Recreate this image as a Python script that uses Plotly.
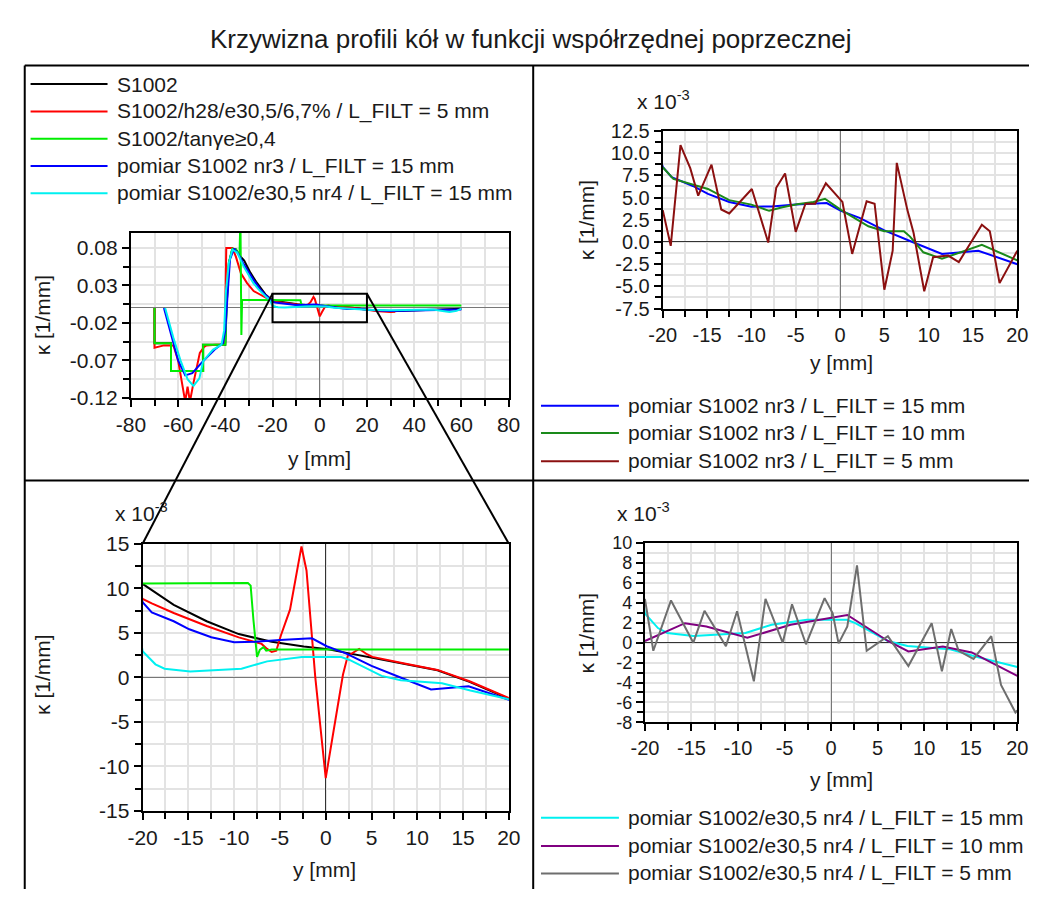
import numpy as np
import plotly.graph_objects as go

W, H = 1041, 900

# ---------------------------------------------------------------------------
# Curvature of wheel profiles, kappa [1/mm], versus lateral coordinate y [mm]
# ---------------------------------------------------------------------------

# S1002 nominal profile
y_s1002 = [-70, -70, -63, -63, -49.4, -49.4, -40, -39.5, -38.5, -37, -35.5, -34,
           -32, -29.4, -27, -25, -23, -21, -20, -16.6, -13, -9.5, -5.9, -2.4, 0,
           5, 8.6, 12.2, 15.7, 20, 30, 40, 50, 60]
k_s1002 = [0, -0.047, -0.047, -0.084, -0.084, -0.049, -0.049, 0.0, 0.06, 0.079,
           0.078, 0.07, 0.063, 0.047, 0.035, 0.026, 0.018, 0.0125, 0.0105,
           0.00815, 0.0063, 0.00486, 0.0040, 0.00347, 0.0032, 0.0022, 0.0015,
           0.0008, -0.0005, -0.0024, -0.0045, -0.003, -0.002, -0.001]

# S1002/h28/e30,5/6,7% filtered with L_FILT = 5 mm
y_h28 = [-70, -70, -66, -62, -60, -58, -57, -56, -55, -53.5, -52, -50.8, -49,
         -48, -44, -41, -40.2, -39.6, -37, -35.5, -33.4, -30.8, -28, -26, -24,
         -22, -20, -19, -16.6, -13, -9.5, -7, -6.4, -5.9, -5.4, -4.9, -3.9,
         -3.2, -2.65, -2.1, -1.5, -1.14, 0, 0.9, 1.88, 2.4, 3.65, 4.5, 5.1, 8.6,
         12.2, 15.7, 20, 25, 30, 32]
k_h28 = [0, -0.053, -0.05, -0.05, -0.07, -0.11, -0.125, -0.105, -0.125, -0.10,
         -0.075, -0.06, -0.052, -0.05, -0.049, -0.049, -0.04, 0.08, 0.08, 0.068,
         0.046, 0.033, 0.0225, 0.019, 0.016, 0.013, 0.0088, 0.0083, 0.00723,
         0.00577, 0.00449, 0.00376, 0.0032, 0.00285, 0.0030, 0.0047, 0.0076,
         0.0116, 0.0147, 0.0120, 0.0047, 0.0, -0.0113, -0.0058, 0.0003, 0.0024,
         0.0032, 0.0026, 0.0023, 0.00157, 0.00084, -0.00043, -0.00233, -0.0045,
         -0.0055, -0.005]

# S1002 with tan(gamma_e) >= 0.4
y_tan = [-70, -70, -63, -63, -49.4, -49.4, -40, -39.5, -38.5, -37, -35.5, -34,
         -33.6, -33.2, -32.9, -8.5, -8.2, -7.9, -7.5, -7.2, -6.8, -6.5, -5.9, 60]
k_tan = [0, -0.047, -0.047, -0.084, -0.084, -0.049, -0.049, 0.0, 0.06, 0.079,
         0.078, 0.07, 0.12, -0.036, 0.0105, 0.0106, 0.0103, 0.0065, 0.0023,
         0.0031, 0.0034, 0.0030, 0.00314, 0.00314]

# measured S1002 nr3, L_FILT = 15 mm
y_nr3_f15 = [-66, -63, -60, -57, -54, -50, -47, -44.5, -41, -40, -39, -38, -36.3,
             -34.5, -32.5, -30.8, -28, -25.3, -23, -21.2, -20, -19, -16.6, -14.9,
             -12.5, -10, -7.7, -5, -2.4, -1.5, 0.1, 2.2, 5, 7.55, 8.3, 11.5,
             15.6, 20, 25, 30, 40, 50, 60]
k_nr3_f15 = [0.0, -0.035, -0.07, -0.09, -0.087, -0.073, -0.063, -0.0555, -0.047,
             -0.03, 0.02, 0.065, 0.079, 0.072, 0.06, 0.051, 0.037, 0.025, 0.017,
             0.0125, 0.00845, 0.0073, 0.0063, 0.0054, 0.0045, 0.00395, 0.0040,
             0.0042, 0.0043, 0.00438, 0.0035, 0.0027, 0.0013, 0.0003, -0.00007,
             -0.00135, -0.00099, -0.00252, -0.0035, -0.004, -0.003, -0.0025,
             -0.002]

# measured S1002/e30,5 nr4, L_FILT = 15 mm
y_nr4_f15 = [-65.5, -62, -59, -56, -53.5, -51, -49.4, -47, -45.3, -41.6, -40.5,
             -39.8, -38.5, -37, -35, -32.2, -30, -28.1, -26, -24, -22.5, -21.2,
             -20, -18.6, -17.6, -14.8, -11.3, -9.2, -6.4, -2.6, 1.7, 2.6, 6.1,
             8.2, 12.7, 15.8, 20, 30, 40, 48, 52, 55, 58, 60]
k_nr4_f15 = [0.0, -0.04, -0.07, -0.095, -0.104, -0.094, -0.071, -0.062, -0.056,
             -0.049, -0.03, 0.02, 0.06, 0.0776, 0.074, 0.055, 0.043, 0.033,
             0.025, 0.0182, 0.014, 0.011, 0.00293, 0.00147, 0.00098, 0.00066,
             0.00082, 0.00098, 0.0018, 0.00229, 0.00229, 0.00196, 0.00017,
             -0.00033, -0.00065, -0.00147, -0.00245, -0.003, -0.003, -0.002,
             -0.004, -0.0055, -0.004, -0.001]

# measured S1002 nr3, L_FILT = 10 mm and 5 mm (values in 10^-3 1/mm)
y_nr3_f10 = [-20, -18.8, -14.9, -12.5, -10, -8, -6.5, -4.85, -3, -1.7, 0.1, 3.2,
             5, 7.2, 7.9, 9.4, 11.5, 13.1, 16, 20]
k_nr3_f10 = np.array([8.4, 7.1, 5.96, 4.7, 4.2, 3.5, 3.9, 4.25, 4.5, 4.86, 3.6,
                      1.76, 1.2, 1.2, 0.6, -1.17, -1.9, -1.35, -0.33, -2.08]) * 1e-3
y_nr3_f5 = [-20, -19.1, -18, -16.9, -16, -14.5, -13.4, -12.5, -9.95, -8.1, -7.2,
            -6.2, -5.0, -3.9, -2.8, -1.6, 0.27, 1.37, 3.0, 3.9, 5.0, 5.94, 6.4,
            7.6, 8.3, 9.5, 10.5, 12.2, 13.4, 16.0, 16.9, 18.0, 20]
k_nr3_f5 = np.array([3.58, -0.44, 10.9, 8.3, 5.2, 8.7, 3.65, 3.2, 5.96, -0.07,
                     6.1, 7.7, 1.13, 4.3, 4.3, 6.6, 4.5, -1.35, 4.57, 4.3, -5.38,
                     -0.99, 8.9, 3.58, 1.0, -5.56, -1.72, -1.54, -2.27, 1.94, 1.2,
                     -4.64, -0.99]) * 1e-3

# measured S1002/e30,5 nr4, L_FILT = 10 mm and 5 mm (values in 10^-3 1/mm)
y_nr4_f10 = [-20, -15.7, -13.4, -9.0, -4.35, -0.17, 1.74, 6.1, 8.3, 12.0, 15.1, 20]
k_nr4_f10 = np.array([0.17, 1.96, 1.63, 0.49, 1.8, 2.51, 2.78, 0.17, -0.88,
                      -0.39, -0.98, -3.33]) * 1e-3
y_nr4_f5 = [-20, -19.1, -17.2, -14.8, -13.6, -11.3, -10.1, -8.3, -7.05, -5.2,
            -4.2, -2.7, -0.7, 0.17, 0.8, 1.74, 2.78, 3.82, 6.1, 8.3, 10.8, 11.9,
            12.9, 13.7, 15.3, 17.2, 18.25, 19.8, 20]
k_nr4_f5 = np.array([4.4, -0.81, 4.24, 0.0, 3.2, -0.35, 3.15, -3.88, 4.4, 0.0,
                     3.85, -0.16, 4.47, 2.94, -0.07, 1.63, 7.77, -0.81, 0.66,
                     -2.35, 1.96, -2.87, 1.37, -0.81, -1.63, 0.66, -4.24, -7.0,
                     -6.8]) * 1e-3

# tick positions and labels
tl_xticks = [-80, -60, -40, -20, 0, 20, 40, 60, 80]
tl_yticks = [-0.12, -0.07, -0.02, 0.03, 0.08]
zoom_xticks = [-20, -15, -10, -5, 0, 5, 10, 15, 20]
tr_yticks = [-7.5, -5.0, -2.5, 0.0, 2.5, 5.0, 7.5, 10.0, 12.5]
bl_yticks = [-15, -10, -5, 0, 5, 10, 15]
br_yticks = [-8, -6, -4, -2, 0, 2, 4, 6, 8, 10]

# ---------------------------------------------------------------------------
FONT = "Liberation Sans, Arial, sans-serif"
FS = 21
TXT = "#1a1a1a"
GRID = "#e3e3e3"
MILLI = 1e3  # axes of the detail plots are scaled by 10^-3

C_BLACK, C_RED, C_LIME, C_BLUE, C_CYAN = "#000000", "#ff0000", "#00ee00", "#0000ff", "#00f0f0"
C_GREEN, C_DRED, C_PURPLE, C_GRAY = "#1a8a1a", "#8b1010", "#800080", "#6e6e6e"


def px(x):
    return x / W


def py(y):
    return 1 - y / H


def axis(domain, rng, tickvals, ticktext, minor_tick0, minor_dtick, anchor, fs=FS,
         zcolor="#777777"):
    return dict(
        domain=domain, range=rng, anchor=anchor,
        tickmode="array", tickvals=tickvals, ticktext=ticktext,
        ticks="outside", ticklen=7, tickwidth=2, tickcolor="black",
        showline=True, linecolor="black", linewidth=2, mirror=True,
        showgrid=True, gridcolor=GRID, gridwidth=1.5,
        zeroline=True, zerolinecolor=zcolor, zerolinewidth=1,
        tickfont=dict(family=FONT, size=fs, color=TXT),
        minor=dict(tickmode="linear", tick0=minor_tick0, dtick=minor_dtick,
                   ticks="outside", ticklen=6, tickwidth=2, tickcolor="black",
                   showgrid=True, gridcolor=GRID, gridwidth=1.5),
        fixedrange=True,
    )


# plot area positions (pixels)
TL = dict(x=(119, 506.7), y=(226.7, 396))
TR = dict(x=(665, 1029), y=(122, 304.3))
BL = dict(x=(131, 507), y=(545.7, 820))
BR = dict(x=(646.7, 1029), y=(545, 729))


def dom_x(a):
    return [px(a["x"][0]), px(a["x"][1])]


def dom_y(a):
    return [py(a["y"][1]), py(a["y"][0])]


fig = go.Figure()


def line(x, y, color, xa, ya, scale=1.0):
    fig.add_trace(go.Scatter(x=x, y=np.asarray(y, dtype=float) * scale, mode="lines",
                             line=dict(color=color, width=2), xaxis=xa, yaxis=ya,
                             showlegend=False, hoverinfo="skip"))


overview = [
    (y_s1002, k_s1002, C_BLACK, "S1002"),
    (y_h28, k_h28, C_RED, "S1002/h28/e30,5/6,7% / L_FILT = 5 mm"),
    (y_tan, k_tan, C_LIME, "S1002/tanγe≥0,4"),
    (y_nr3_f15, k_nr3_f15, C_BLUE, "pomiar S1002 nr3 / L_FILT = 15 mm"),
    (y_nr4_f15, k_nr4_f15, C_CYAN, "pomiar S1002/e30,5 nr4 / L_FILT = 15 mm"),
]
nr3 = [
    (y_nr3_f15, k_nr3_f15, C_BLUE, "pomiar S1002 nr3 / L_FILT = 15 mm"),
    (y_nr3_f10, k_nr3_f10, C_GREEN, "pomiar S1002 nr3 / L_FILT = 10 mm"),
    (y_nr3_f5, k_nr3_f5, C_DRED, "pomiar S1002 nr3 / L_FILT = 5 mm"),
]
nr4 = [
    (y_nr4_f15, k_nr4_f15, C_CYAN, "pomiar S1002/e30,5 nr4 / L_FILT = 15 mm"),
    (y_nr4_f10, k_nr4_f10, C_PURPLE, "pomiar S1002/e30,5 nr4 / L_FILT = 10 mm"),
    (y_nr4_f5, k_nr4_f5, C_GRAY, "pomiar S1002/e30,5 nr4 / L_FILT = 5 mm"),
]

for x, k, c, _ in overview:
    line(x, k, c, "x", "y")
for x, k, c, _ in nr3:
    line(x, k, c, "x2", "y2", MILLI)
for x, k, c, _ in overview:
    line(x, k, c, "x3", "y3", MILLI)
for x, k, c, _ in nr4:
    line(x, k, c, "x4", "y4", MILLI)

TL_XR, TL_YR = [-80, 80], [-0.12, 0.1]
ZOOM_XR = [-20, 20]
DARK0 = "#333333"

fig.update_layout(
    width=W, height=H, autosize=False,
    margin=dict(l=0, r=0, t=0, b=0),
    paper_bgcolor="white", plot_bgcolor="white",
    font=dict(family=FONT, size=FS, color=TXT),
    xaxis=axis(dom_x(TL), TL_XR, tl_xticks, [f"{v:g}" for v in tl_xticks], -80, 10, "y"),
    yaxis=axis(dom_y(TL), TL_YR, tl_yticks, [f"{v:.2f}" for v in tl_yticks], -0.12, 0.025, "x"),
    xaxis2=axis(dom_x(TR), ZOOM_XR, zoom_xticks, [f"{v:g}" for v in zoom_xticks], -20, 2.5, "y2", 20),
    yaxis2=axis(dom_y(TR), [-7.5, 12.5], tr_yticks, [f"{v:.1f}" for v in tr_yticks], -7.5, 1.25, "x2", 20,
                zcolor=DARK0),
    xaxis3=axis(dom_x(BL), ZOOM_XR, zoom_xticks, [f"{v:g}" for v in zoom_xticks], -20, 2.5, "y3",
                zcolor=DARK0),
    yaxis3=axis(dom_y(BL), [-15, 15], bl_yticks, [f"{v:g}" for v in bl_yticks], -15, 2.5, "x3"),
    xaxis4=axis(dom_x(BR), ZOOM_XR, zoom_xticks, [f"{v:g}" for v in zoom_xticks], -20, 2.5, "y4", 20),
    yaxis4=axis(dom_y(BR), [-8, 10], br_yticks, [f"{v:g}" for v in br_yticks], -8, 1, "x4", 18,
                zcolor=DARK0),
    showlegend=False,
)

shapes = []
ann = []

# panel frame (kept inside the paper)
FR = dict(color="black", width=2)
shapes += [
    dict(type="line", xref="paper", yref="paper", x0=px(10), x1=1, y0=py(55), y1=py(55), line=FR),
    dict(type="line", xref="paper", yref="paper", x0=px(10), x1=px(10), y0=py(55), y1=0, line=FR),
    dict(type="line", xref="paper", yref="paper", x0=px(10), x1=1, y0=py(480.7), y1=py(480.7), line=FR),
    dict(type="line", xref="paper", yref="paper", x0=px(532), x1=px(532), y0=py(55), y1=0, line=FR),
]

# zoom window on the overview and its connectors to the detail plot
ZOOM_YR = [-0.019, 0.019]
shapes.append(dict(type="rect", xref="x", yref="y", x0=ZOOM_XR[0], x1=ZOOM_XR[1],
                   y0=ZOOM_YR[0], y1=ZOOM_YR[1], line=FR, layer="above"))


def tl_paper(xv, yv):
    dx, dy = dom_x(TL), dom_y(TL)
    return (dx[0] + (xv - TL_XR[0]) / (TL_XR[1] - TL_XR[0]) * (dx[1] - dx[0]),
            dy[0] + (yv - TL_YR[0]) / (TL_YR[1] - TL_YR[0]) * (dy[1] - dy[0]))


for corner, target in ((ZOOM_XR[0], dom_x(BL)[0]), (ZOOM_XR[1], dom_x(BL)[1])):
    sx, sy = tl_paper(corner, ZOOM_YR[1])
    shapes.append(dict(type="line", xref="paper", yref="paper", x0=sx, y0=sy,
                       x1=target, y1=dom_y(BL)[1], line=FR, layer="above"))


# legends
def legend(items, x_line, x_text, y_rows):
    for (_, _, c, name), yy in zip(items, y_rows):
        shapes.append(dict(type="line", xref="paper", yref="paper",
                           x0=px(x_line[0]), x1=px(x_line[1]), y0=py(yy), y1=py(yy),
                           line=dict(color=c, width=2)))
        ann.append(dict(xref="paper", yref="paper", x=px(x_text), y=py(yy), text=name,
                        showarrow=False, xanchor="left", yanchor="middle",
                        font=dict(family=FONT, size=FS, color=TXT)))


legend(overview, (16, 95), 103, [74, 102, 130, 158, 186])
legend(nr3, (540, 620), 627, [404, 432, 461])
legend(nr4, (540, 620), 627, [827, 856, 884])


def text(x, y, s, angle=0, xanchor="center", size=FS):
    ann.append(dict(xref="paper", yref="paper", x=px(x), y=py(y), text=s, showarrow=False,
                    textangle=angle, xanchor=xanchor, yanchor="middle",
                    font=dict(family=FONT, size=size, color=TXT)))


KAPPA = "κ [1/mm]"
text(530, 28, "Krzywizna profili kół w funkcji współrzędnej poprzecznej", size=26)
text(28, 311, KAPPA, angle=-90)
text(28, 680, KAPPA, angle=-90)
text(587, 213, KAPPA, angle=-90)
text(587, 637, KAPPA, angle=-90)
text(313, 458, "y [mm]")
text(848, 360, "y [mm]")
text(318, 880, "y [mm]")
text(848, 788, "y [mm]")
EXP = "x 10<sup>-3</sup>"
text(636, 90, EXP, xanchor="left")
text(616, 513, EXP, xanchor="left")
text(101, 513, EXP, xanchor="left")

fig.update_layout(shapes=shapes, annotations=ann)
fig.write_html(
    "out.html",
    post_script="document.body.style.margin='0';document.body.style.overflow='hidden';",
)
